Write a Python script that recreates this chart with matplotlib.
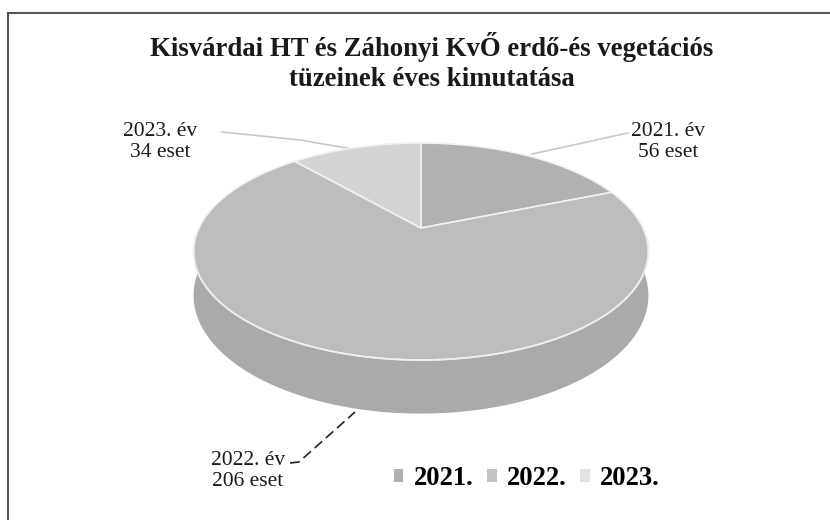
import numpy as np
import matplotlib.pyplot as plt
from matplotlib.patches import Polygon, Patch
from matplotlib.lines import Line2D

# adatok
years = ['2021.', '2022.', '2023.']
cases = [56, 206, 34]
top_colors = ['#b1b1b1', '#bdbdbd', '#d3d3d3']
side_colors = ['#a6a6a6', '#aaaaaa', '#c2c2c2']
legend_colors = ['#b0b0b0', '#c4c4c4', '#e2e2e2']

plt.rcParams['font.family'] = ['Liberation Serif', 'DejaVu Serif']

fig = plt.figure(figsize=(8.3, 5.2), dpi=100)
ax = fig.add_axes([0, 0, 1, 1])
ax.set_xlim(0, 830)
ax.set_ylim(520, 0)
ax.axis('off')

# perspektivikus "3D" torta paraméterei (pixelben)
cx, cy = 421, 228
a, b, k = 222, 103.4, 0.2166
depth = 42


def proj(t, h=0.0):
    x, z = np.cos(t), np.sin(t)
    d = 1 + k * z
    return cx + a * x / d, cy - b * z / d + h * depth / d


# szeletek szögei: 12 órától az óramutató járásával megegyezően
total = sum(cases)
angles = [np.pi / 2]
for c in cases:
    angles.append(angles[-1] - 2 * np.pi * c / total)

# oldalfal (csak az elülső fél látszik: -pi..0)
for i in range(len(cases)):
    t1, t2 = angles[i + 1], angles[i]
    for shift in (0, -2 * np.pi, 2 * np.pi):
        s1, s2 = max(t1 + shift, -np.pi), min(t2 + shift, 0)
        if s2 > s1:
            tt = np.linspace(s1, s2, 200)
            xs, ys = proj(tt)
            xb, yb = proj(tt[::-1], 1)
            pts = np.column_stack([np.r_[xs, xb], np.r_[ys, yb]])
            ax.add_patch(Polygon(pts, closed=True, fc=side_colors[i],
                                 ec='none', zorder=2))

# felső lapok
for i in range(len(cases)):
    tt = np.linspace(angles[i], angles[i + 1], 300)
    xs, ys = proj(tt)
    pts = np.column_stack([np.r_[cx, xs], np.r_[cy, ys]])
    ax.add_patch(Polygon(pts, closed=True, fc=top_colors[i],
                         ec='#f2f2f2', lw=1.2, zorder=3))

# varrat a felső lap és oldalfal között
tt = np.linspace(-np.pi, 0, 300)
xs, ys = proj(tt)
ax.plot(xs, ys, color='#eeeeee', lw=1.2, zorder=4)

# címkék
lab_font = dict(fontsize=15.5, ha='center', va='center', color='#1a1a1a',
                linespacing=1.2)
ax.text(668, 142, f'{years[0]} év\n{cases[0]} eset', **lab_font)
ax.text(248, 471, f'{years[1]} év\n{cases[1]} eset', **lab_font)
ax.text(160, 142, f'{years[2]} év\n{cases[2]} eset', **lab_font)

ax.plot([628, 532], [133, 154], color='#c8c8c8', lw=1.2, zorder=1)
ax.plot([222, 300, 352], [132, 140, 149], color='#c8c8c8', lw=1.2, zorder=1)
ax.plot([290, 299, 355], [463, 462, 412], color='#222222', lw=1.2,
        ls=(0, (6, 3)), zorder=1)

# cím
ax.text(432, 62, 'Kisvárdai HT és Záhonyi KvŐ erdő-és vegetációs\n'
        'tüzeinek éves kimutatása', fontsize=19.3, fontweight='bold',
        ha='center', va='center', linespacing=1.3, color='#1a1a1a')

# jelmagyarázat
handles = [Patch(fc=c, ec='none') for c in legend_colors]
ax.legend(handles, years, loc='center', bbox_to_anchor=(0.635, 0.08),
          ncol=3, frameon=False, handlelength=0.35, handleheight=0.35,
          handletextpad=0.4, columnspacing=0.5,
          prop=dict(family='Liberation Serif', weight='bold', size=19.2))

# keret
fig.add_artist(Line2D([8 / 830, 1], [1 - 13 / 520, 1 - 13 / 520],
                      color='#555555', lw=1.5))
fig.add_artist(Line2D([8 / 830, 8 / 830], [0, 1 - 13 / 520],
                      color='#555555', lw=1.5))

plt.savefig('out.png', dpi=100)
